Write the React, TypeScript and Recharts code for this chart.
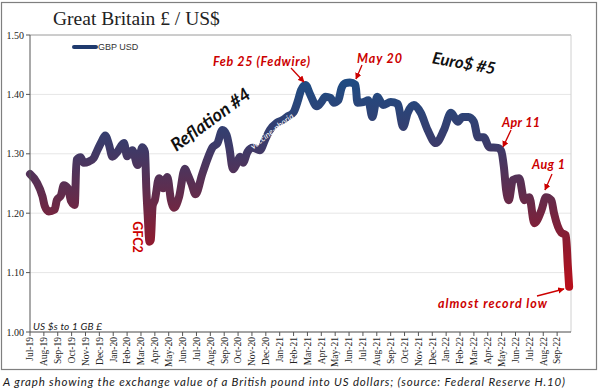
import React from "react";
import { LineChart, Line, XAxis, YAxis, CartesianGrid, ReferenceLine } from "recharts";

const DATES = [
  "2019-07-01","2019-07-16","2019-07-29","2019-08-03","2019-08-12","2019-08-25","2019-08-30","2019-09-08","2019-09-14","2019-09-23",
  "2019-09-30","2019-10-08","2019-10-12","2019-10-21","2019-10-28","2019-11-08","2019-11-19","2019-11-26","2019-12-07","2019-12-14",
  "2019-12-23","2019-12-30","2020-01-10","2020-01-25","2020-02-01","2020-02-12","2020-02-23","2020-03-04","2020-03-10","2020-03-13",
  "2020-03-16","2020-03-20","2020-03-23","2020-03-27","2020-04-01","2020-04-10","2020-04-19","2020-04-28","2020-05-06","2020-05-13",
  "2020-05-24","2020-06-06","2020-06-12","2020-06-20","2020-06-29","2020-07-14","2020-07-25","2020-08-06","2020-08-17","2020-08-28",
  "2020-09-06","2020-09-12","2020-09-20","2020-09-29","2020-10-05","2020-10-12","2020-10-22","2020-11-03","2020-11-18","2020-11-29",
  "2020-12-10","2020-12-25","2021-01-08","2021-01-17","2021-02-01","2021-02-10","2021-02-16","2021-02-25","2021-03-07","2021-03-22",
  "2021-04-01","2021-04-10","2021-04-21","2021-04-28","2021-05-08","2021-05-15","2021-05-24","2021-06-03","2021-06-15","2021-06-19",
  "2021-07-02","2021-07-13","2021-07-22","2021-08-02","2021-08-15","2021-09-01","2021-09-16","2021-09-28","2021-10-08","2021-10-22",
  "2021-11-06","2021-11-21","2021-12-09","2021-12-27","2022-01-12","2022-01-27","2022-02-06","2022-02-18","2022-03-01","2022-03-10",
  "2022-03-23","2022-04-04","2022-04-23","2022-04-30","2022-05-06","2022-05-11","2022-05-17","2022-05-26","2022-06-09","2022-06-20",
  "2022-07-01","2022-07-12","2022-07-28","2022-08-07","2022-08-19","2022-08-25","2022-09-10","2022-09-20","2022-09-24","2022-09-27",
];

const GBPUSD = [
  1.266,1.252,1.228,1.212,1.203,1.206,1.222,1.230,1.247,1.242,
  1.220,1.214,1.290,1.294,1.285,1.287,1.293,1.305,1.322,1.331,
  1.314,1.295,1.303,1.318,1.296,1.306,1.281,1.311,1.303,1.240,
  1.197,1.152,1.155,1.212,1.222,1.259,1.242,1.261,1.222,1.209,
  1.227,1.275,1.265,1.250,1.232,1.266,1.290,1.311,1.318,1.340,
  1.332,1.311,1.274,1.285,1.295,1.285,1.303,1.310,1.306,1.323,
  1.340,1.352,1.357,1.362,1.370,1.390,1.407,1.416,1.400,1.380,
  1.387,1.396,1.394,1.386,1.390,1.410,1.419,1.420,1.416,1.386,
  1.387,1.390,1.362,1.396,1.382,1.387,1.384,1.345,1.369,1.382,
  1.369,1.340,1.318,1.340,1.369,1.354,1.362,1.362,1.354,1.328,
  1.328,1.311,1.310,1.305,1.278,1.239,1.222,1.256,1.259,1.222,
  1.227,1.183,1.205,1.227,1.222,1.200,1.167,1.163,1.113,1.076,
];

const MONTH_LABELS = [
  "Jul-19","Aug-19","Sep-19","Oct-19","Nov-19","Dec-19",
  "Jan-20","Feb-20","Mar-20","Apr-20","May-20","Jun-20","Jul-20","Aug-20","Sep-20","Oct-20","Nov-20","Dec-20",
  "Jan-21","Feb-21","Mar-21","Apr-21","May-21","Jun-21","Jul-21","Aug-21","Sep-21","Oct-21","Nov-21","Dec-21",
  "Jan-22","Feb-22","Mar-22","Apr-22","May-22","Jun-22","Jul-22","Aug-22","Sep-22",
];

const Y_TICKS = [1.0, 1.1, 1.2, 1.3, 1.4, 1.5];

const SERIES_NAME = "GBP USD";

function monthOffset(d: string): number {
  const [y, mo, day] = d.split("-").map(Number);
  const dim = new Date(y, mo, 0).getDate();
  return (y - 2019) * 12 + (mo - 7) + (day - 1) / dim;
}

const data = DATES.map((d, i) => ({ m: monthOffset(d), v: GBPUSD[i] }));
const xTicks = MONTH_LABELS.map((_, i) => i);

const RED = "#cc0000";
const ANNOT_FONT = "Lato, 'Open Sans', sans-serif";
const SERIF = "'Liberation Serif', 'Times New Roman', serif";

const MonthTick = (props: any) => {
  const { x, y, payload } = props;
  const yy = 337;
  return (
    <text
      x={x}
      y={yy}
      transform={`rotate(-90 ${x} ${yy})`}
      textAnchor="end"
      dy="0.35em"
      fontFamily={SERIF}
      fontSize={9.5}
      fill="#222"
    >
      {MONTH_LABELS[payload.value]}
    </text>
  );
};

export default function App() {
  return (
    <div style={{ position: "absolute", left: 0, top: 0, width: 600, height: 392, background: "#fff" }}>
      <LineChart
        width={600}
        height={392}
        data={data}
        margin={{ top: 35, right: 29, bottom: 30, left: 0 }}
      >
        <defs>
          <linearGradient id="gbpGrad" x1="0" y1="0" x2="0" y2="1">
            <stop offset="0" stopColor="#1f4b82" />
            <stop offset="0.3" stopColor="#3b3b6a" />
            <stop offset="0.55" stopColor="#622c4c" />
            <stop offset="0.8" stopColor="#901a2e" />
            <stop offset="1" stopColor="#b8101c" />
          </linearGradient>
        </defs>
        <CartesianGrid vertical={false} stroke="#e6e6e6" />
        <XAxis
          type="number"
          dataKey="m"
          domain={[0, 39]}
          ticks={xTicks}
          interval={0}
          height={30}
          tick={<MonthTick />}
          tickSize={4}
          tickLine={{ stroke: "#555" }}
          axisLine={{ stroke: "#555" }}
        />
        <YAxis
          type="number"
          domain={[1.0, 1.5]}
          ticks={Y_TICKS}
          width={30}
          tickSize={4}
          tickLine={{ stroke: "#555" }}
          axisLine={{ stroke: "#555" }}
          tickFormatter={(v: number) => v.toFixed(2)}
          tick={{ fontFamily: SERIF, fontSize: 10, fill: "#222" }}
        />
        <ReferenceLine y={1.5} stroke="#a6a6a6" />
        <ReferenceLine x={39} stroke="#d0d0d0" />
        <Line
          type="monotone"
          dataKey="v"
          name={SERIES_NAME}
          stroke="url(#gbpGrad)"
          strokeWidth={8}
          strokeLinecap="round"
          strokeLinejoin="round"
          dot={false}
          isAnimationActive={false}
        />
      </LineChart>
      <svg width={600} height={392} style={{ position: "absolute", left: 0, top: 0, pointerEvents: "none" }}>
        <defs>
          <marker id="arr" viewBox="0 0 10 10" refX="9" refY="5" markerWidth="5" markerHeight="5" orient="auto">
            <path d="M0,0 L10,5 L0,10 z" fill={RED} />
          </marker>
        </defs>
        <rect x={1.5} y={2.5} width={595} height={367} fill="none" stroke="#7f7f7f" strokeWidth={1.2} />
        <text x={53} y={25} fontFamily={SERIF} fontSize={19.5} fill="#222">
          Great Britain £ / US$
        </text>

        <g>
          <line x1={74} y1={47} x2={96} y2={47} stroke="#1f3a6e" strokeWidth={4} strokeLinecap="round" />
          <text x={98} y={50} fontFamily="Arial, 'Liberation Sans', sans-serif" fontSize={9} fill="#333">{SERIES_NAME}</text>
        </g>

        <g fontFamily={ANNOT_FONT} fontWeight="bold" fontStyle="italic" fill={RED} fontSize={12.5}>
          <text x={213} y={66} textLength={97} lengthAdjust="spacing">Feb 25 (Fedwire)</text>
          <text x={357} y={63} textLength={45} lengthAdjust="spacing">May 20</text>
          <text x={502} y={127} textLength={38} lengthAdjust="spacing">Apr 11</text>
          <text x={532} y={169} textLength={33} lengthAdjust="spacing">Aug 1</text>
          <text x={438} y={308} textLength={109} lengthAdjust="spacing">almost record low</text>
          <text x={137} y={237} transform="rotate(90 137 237)" textAnchor="middle" dominantBaseline="central" fontStyle="normal">GFC2</text>
        </g>
        <g stroke={RED} strokeWidth={1.3}>
          <line x1={291} y1={68} x2={304} y2={82} markerEnd="url(#arr)" />
          <line x1={362} y1={65} x2={356} y2={79} markerEnd="url(#arr)" />
          <line x1={511} y1={130} x2={503} y2={147} markerEnd="url(#arr)" />
          <line x1={552} y1={174} x2={545} y2={190} markerEnd="url(#arr)" />
          <line x1={537} y1={296} x2={564} y2={289} markerEnd="url(#arr)" />
        </g>

        <g fontFamily={ANNOT_FONT} fontWeight="bold" fontStyle="italic" fill="#111">
          <text x={464} y={63} fontSize={16.5} textAnchor="middle" dominantBaseline="central" transform="rotate(10 464 63)">Euro$ #5</text>
          <text x={210} y={119} fontSize={18} textAnchor="middle" dominantBaseline="central" transform="rotate(-36 210 119)">Reflation #4</text>
        </g>
        <text x={272} y={131} fontFamily={ANNOT_FONT} fontStyle="italic" fontSize={8.5} fill="#fff" textAnchor="middle" dominantBaseline="central" transform="rotate(-38 272 131)">
          vaccine-phoria
        </text>
        <text x={33} y={330} fontFamily={ANNOT_FONT} fontStyle="italic" fontSize={10} fill="#1a1a1a" textLength={69} lengthAdjust="spacing">
          US $s to 1 GB £
        </text>
        <text x={3} y={386} fontFamily={ANNOT_FONT} fontStyle="italic" fontSize={11.5} fill="#1a1a1a" textLength={562} lengthAdjust="spacing">
          A graph showing the exchange value of a British pound into US dollars; (source: Federal Reserve H.10)
        </text>
      </svg>
    </div>
  );
}
